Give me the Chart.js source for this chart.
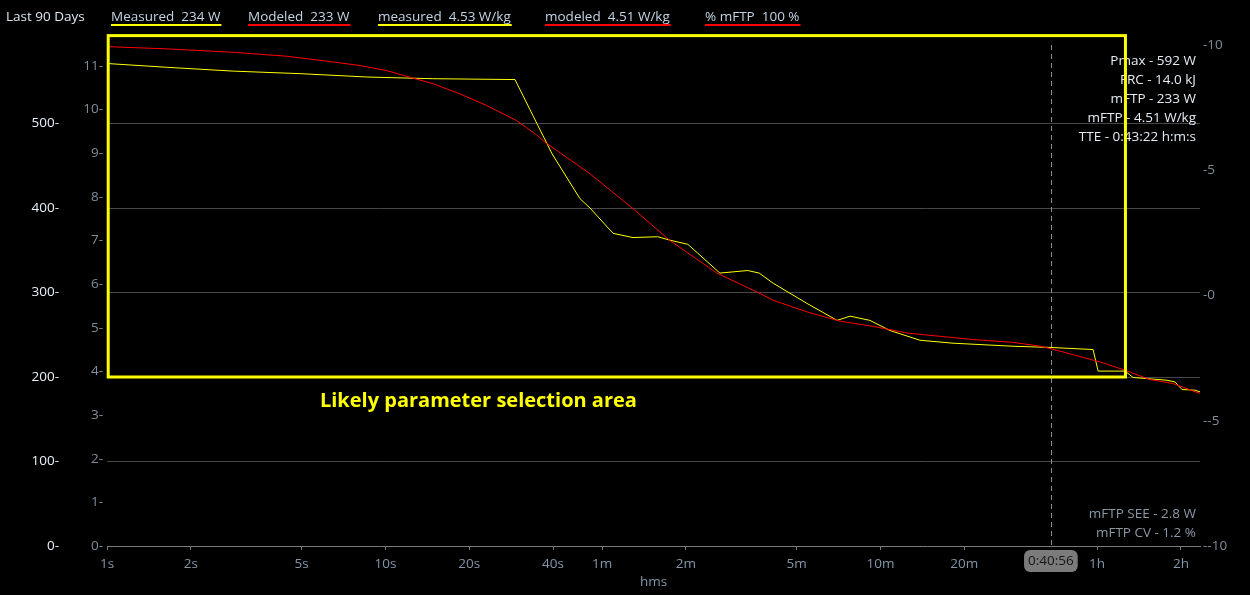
<!DOCTYPE html>
<html>
<head>
<meta charset="utf-8">
<script src="https://cdn.jsdelivr.net/npm/chart.js@4.4.1/dist/chart.umd.min.js"></script>
<style>
    html, body { margin: 0; padding: 0; background: #000; }
    #wrap { width: 1250px; height: 595px; }
</style>
</head>
<body>
<div id="wrap"><canvas id="cpChart" width="1250" height="595"></canvas></div>
<script>
// Mean maximal power, last 90 days (duration in seconds, power in watts)
const measuredSec = [1, 1.64, 2.84, 4.93, 8.6, 14.8, 29.2, 35, 39.7, 50, 54.3, 65.7, 77.5, 95, 105, 122, 159, 200, 220, 247, 327, 419, 467, 550, 649, 832, 1093, 1796, 2439, 3481, 3630, 4537, 4847, 6417, 6855, 7263, 8090, 8430];
const measuredW = [571, 566.5, 562, 559, 555, 553, 552, 500, 464, 411, 400, 370, 365, 366, 362, 357, 323, 326, 323, 311, 287, 267, 272, 267, 255, 243.5, 240, 236.4, 235, 232.5, 207, 207, 199.4, 196.2, 194.2, 185.2, 184.4, 182.4];

const modeledSec = [1, 1.64, 2.84, 4.42, 6.32, 8.1, 10.1, 11.9, 14.9, 18.5, 23.1, 29.6, 34.9, 37.4, 54.3, 77.5, 105, 155, 222, 247, 327, 430, 564, 748, 1291, 1796, 2245, 2439, 3690, 4537, 5575, 6745, 8430];
const modeledW = [591, 588.3, 584.3, 579.6, 573.3, 568.6, 562.6, 555.9, 546.9, 535.1, 521.3, 503.5, 486.6, 477.9, 440.5, 399.2, 361.7, 323, 298.7, 290.8, 277, 266, 260, 252, 244.3, 241, 236.5, 233.7, 217.8, 208, 197, 192.3, 180.5];

const xTickSec = [1, 2, 5, 10, 20, 40, 60, 120, 300, 600, 1200, 3600, 7200];
const xTickLabels = ['1s', '2s', '5s', '10s', '20s', '40s', '1m', '2m', '5m', '10m', '20m', '1h', '2h'];
const wattTicks = [0, 100, 200, 300, 400, 500];
const kgTicks = [0, 1, 2, 3, 4, 5, 6, 7, 8, 9, 10, 11];
const rightTicks = [10, 5, 0, -5, -10];

const weightKg = 51.66;
const tteSec = 2456;
const tteLabel = '0:40:56';

const legendItems = ['Measured  234 W', 'Modeled  233 W', 'measured  4.53 W/kg', 'modeled  4.51 W/kg', '% mFTP  100 %'];
const legendColors = ['#ffff00', '#ff0000', '#ffff00', '#ff0000', '#ff0000'];
const legendX = [111, 248, 378, 545, 705];
const statsLines = ['Pmax - 592 W', 'FRC - 14.0 kJ', 'mFTP - 233 W', 'mFTP - 4.51 W/kg', 'TTE - 0:43:22 h:m:s'];
const fitLines = ['mFTP SEE - 2.8 W', 'mFTP CV - 1.2 %'];

// selection box annotation (seconds / watts)
const boxSec = [1.01, 4550];
const boxW = [200, 604];
const noteText = 'Likely parameter selection area';
const noteAt = [5.82, 171.4];

const FONT = "'Open Sans', 'Noto Sans', sans-serif";
Chart.defaults.font.family = FONT;
Chart.defaults.font.size = 13.5;

const overlay = {
    id: 'overlay',
    afterDatasetsDraw(chart) {
        const { ctx, chartArea, scales } = chart;
        const tx = Math.round(scales.x.getPixelForValue(tteSec)) + 0.5;
        ctx.save();
        ctx.strokeStyle = '#8c8c8c';
        ctx.lineWidth = 1;
        ctx.setLineDash([5, 4]);
        ctx.beginPath();
        ctx.moveTo(tx, chartArea.top + 6);
        ctx.lineTo(tx, chartArea.bottom);
        ctx.stroke();
        ctx.restore();
    },
    afterDraw(chart) {
        const { ctx, chartArea, scales } = chart;
        const x = scales.x, yW = scales.yW;
        ctx.save();

        // header + legend
        ctx.font = '13.5px ' + FONT;
        ctx.textBaseline = 'middle';
        ctx.textAlign = 'left';
        ctx.fillStyle = '#dce6f0';
        ctx.fillText('Last 90 Days', 6, 17);
        legendItems.forEach((t, i) => {
            const w = ctx.measureText(t).width;
            ctx.fillStyle = '#c4d4e4';
            ctx.fillText(t, legendX[i], 17);
            ctx.fillStyle = legendColors[i];
            ctx.fillRect(legendX[i], 24, w + 1, 2);
        });

        // model stats, top right
        ctx.textAlign = 'right';
        ctx.fillStyle = '#e4ecf4';
        statsLines.forEach((t, i) => ctx.fillText(t, chartArea.right - 4, 61 + i * 19));
        ctx.fillStyle = '#8a98a6';
        fitLines.forEach((t, i) => ctx.fillText(t, chartArea.right - 4, 514 + i * 19));

        // selection box
        const bx0 = x.getPixelForValue(boxSec[0]), bx1 = x.getPixelForValue(boxSec[1]);
        const by0 = yW.getPixelForValue(boxW[1]), by1 = yW.getPixelForValue(boxW[0]);
        ctx.strokeStyle = '#ffff00';
        ctx.lineWidth = 3;
        ctx.strokeRect(bx0, by0, bx1 - bx0, by1 - by0);
        ctx.fillStyle = '#ffff00';
        ctx.textAlign = 'left';
        ctx.font = 'bold 20px ' + FONT;
        ctx.fillText(noteText, x.getPixelForValue(noteAt[0]), yW.getPixelForValue(noteAt[1]));

        // TTE pill on the x axis
        const tx = x.getPixelForValue(tteSec);
        ctx.font = '13.5px ' + FONT;
        const pw = ctx.measureText(tteLabel).width + 8;
        ctx.fillStyle = '#7b7b7b';
        ctx.beginPath();
        ctx.roundRect(tx - pw / 2, 550, pw, 22, 6);
        ctx.fill();
        ctx.fillStyle = '#161616';
        ctx.textAlign = 'center';
        ctx.fillText(tteLabel, tx, 561);
        ctx.restore();
    }
};

const lineSet = (label, secs, watts, color) => ({
    label,
    data: secs.map((s, i) => ({ x: s, y: watts[i] })),
    borderColor: color,
    borderWidth: 1,
    pointRadius: 0,
    tension: 0,
    yAxisID: 'yW'
});

new Chart(document.getElementById('cpChart').getContext('2d'), {
    type: 'line',
    data: {
        datasets: [
            lineSet('Modeled', modeledSec, modeledW, '#ff0000'),
            lineSet('Measured', measuredSec, measuredW, '#ffff00')
        ]
    },
    options: {
        responsive: false,
        animation: false,
        devicePixelRatio: 1,
        layout: { padding: { top: 39, left: 0, right: 0, bottom: 0 } },
        plugins: { legend: { display: false }, tooltip: { enabled: false } },
        scales: {
            x: {
                type: 'logarithmic', min: 1, max: 8430,
                afterBuildTicks: s => { s.ticks = xTickSec.map(v => ({ value: v })); },
                afterFit: s => { s.height = 49; },
                ticks: { color: '#8396a9', autoSkip: false, maxRotation: 0, padding: 6, callback: (v, i) => xTickLabels[i] },
                grid: { drawOnChartArea: false, drawTicks: true, tickLength: 4, tickColor: '#7a7a7a' },
                border: { color: '#7a7a7a' },
                title: { display: true, text: 'hms', color: '#8396a9', padding: { top: 2, bottom: 5 } }
            },
            yW: {
                type: 'linear', position: 'left', weight: 1, min: 0, max: 600,
                afterBuildTicks: s => { s.ticks = wattTicks.map(v => ({ value: v })); },
                afterFit: s => { s.width = 65; },
                ticks: { color: '#e8f0f8', padding: 6, callback: v => v + '-' },
                grid: { drawTicks: false, color: c => (c.tick && c.tick.value === 0) ? 'rgba(0,0,0,0)' : '#474747' },
                border: { display: false }
            },
            yKg: {
                type: 'linear', position: 'left', weight: 0, min: 0, max: 600 / weightKg,
                afterBuildTicks: s => { s.ticks = kgTicks.map(v => ({ value: v })); },
                afterFit: s => { s.width = 42; },
                ticks: { color: '#7f8c99', padding: 4, callback: v => v + '-' },
                grid: { display: false, drawTicks: false },
                border: { display: false }
            },
            yR: {
                type: 'linear', position: 'right', min: -10, max: 10.24,
                afterBuildTicks: s => { s.ticks = rightTicks.map(v => ({ value: v })); },
                afterFit: s => { s.width = 50; },
                ticks: { color: '#7f8c99', padding: 3, callback: v => '-' + v },
                grid: { display: false, drawTicks: false },
                border: { display: false }
            }
        }
    },
    plugins: [overlay]
});
</script>
</body>
</html>
